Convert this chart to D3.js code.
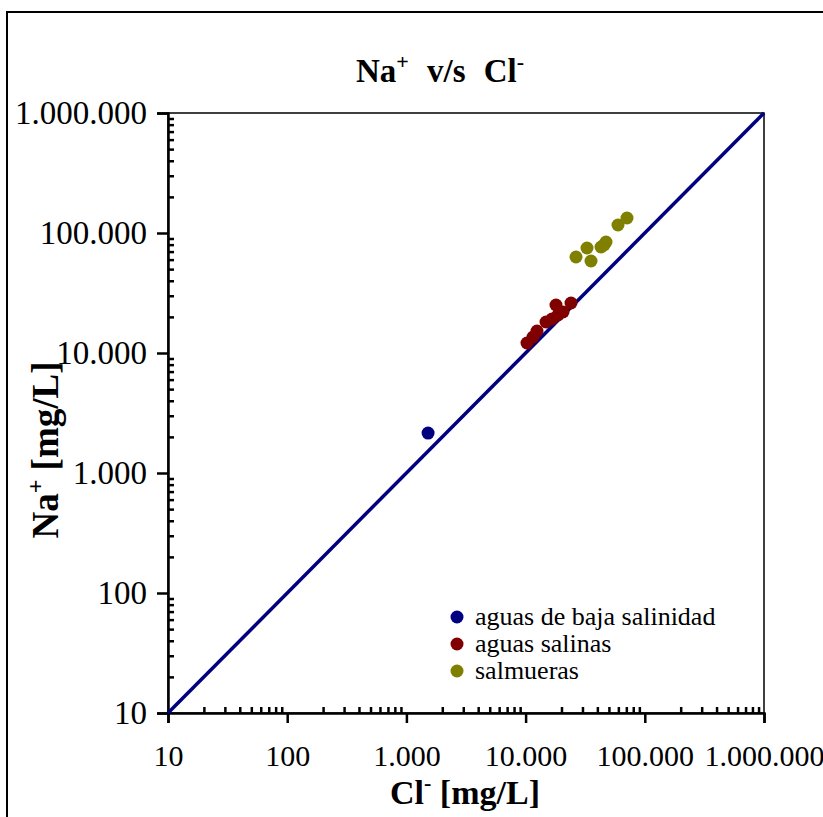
<!DOCTYPE html>
<html>
<head>
<meta charset="utf-8">
<script src="https://cdn.jsdelivr.net/npm/d3@7"></script>
<style>
  body { margin: 0; background: #fff; }
  svg { display: block; }
  svg text { font-family: "Liberation Serif", "Times New Roman", serif; }
</style>
</head>
<body>
<div id="chart"></div>
<script>
// series values (Cl-, Na+ in mg/L)
const bajaCl = [1520];
const bajaNa = [2150];
const salinasCl = [10270, 11540, 12460, 14830, 16650, 17990, 18700, 20600, 24040];
const salinasNa = [12110, 13590, 15250, 18130, 19200, 25120, 20730, 21970, 26100];
const salmuerasCl = [26480, 32740, 35380, 42930, 45500, 47270, 59580, 70900];
const salmuerasNa = [63100, 74990, 58430, 76430, 79430, 84140, 116600, 133350];

const seriesNames = ['aguas de baja salinidad', 'aguas salinas', 'salmueras'];
const seriesColors = ['#000080', '#800000', '#808000'];
const majorTicks = [10, 100, 1000, 10000, 100000, 1000000];

const width = 823;
const height = 817;
const margin = { left: 168, right: 59, top: 113, bottom: 104 };
const serif = 'Liberation Serif';

const fmt = d3.formatLocale({ decimal: ',', thousands: '.', grouping: [3], currency: ['', '€'] }).format(',d');

const x = d3.scaleLog().domain([10, 1e6]).range([margin.left, width - margin.right]);
const y = d3.scaleLog().domain([10, 1e6]).range([height - margin.bottom, margin.top]);

const series = [
  { name: seriesNames[0], color: seriesColors[0], pts: bajaCl.map((c, i) => [c, bajaNa[i]]) },
  { name: seriesNames[1], color: seriesColors[1], pts: salinasCl.map((c, i) => [c, salinasNa[i]]) },
  { name: seriesNames[2], color: seriesColors[2], pts: salmuerasCl.map((c, i) => [c, salmuerasNa[i]]) },
];

// minor ticks 2..9 per decade
const minorTicks = [];
majorTicks.slice(0, -1).forEach((m) => {
  for (let k = 2; k < 10; k++) minorTicks.push(m * k);
});

const svg = d3.create('svg').attr('width', width).attr('height', height)
  .attr('font-family', serif);

// outer frame (cut by the page edges)
svg.append('rect')
  .attr('x', 7).attr('y', 12)
  .attr('width', 900).attr('height', 900)
  .attr('fill', 'none').attr('stroke', '#000').attr('stroke-width', 2);

// plot frame
svg.append('rect')
  .attr('x', x(10)).attr('y', y(1e6))
  .attr('width', x(1e6) - x(10)).attr('height', y(10) - y(1e6))
  .attr('fill', 'none').attr('stroke', '#000').attr('stroke-width', 1.5);

// x axis
const xAxis = svg.append('g').attr('transform', `translate(0,${y(10)})`);
xAxis.call(d3.axisBottom(x).tickValues(majorTicks).tickSize(10).tickPadding(22).tickFormat(fmt));
xAxis.append('g').call(d3.axisBottom(x).tickValues(minorTicks).tickSize(-6).tickFormat(''))
  .call((g) => g.select('.domain').remove());
xAxis.attr('font-family', serif);
xAxis.selectAll('line, path').attr('stroke', '#000').attr('stroke-width', 2.5);
xAxis.selectAll('text').attr('font-size', 30).attr('font-family', serif).attr('fill', '#000');

// y axis
const yAxis = svg.append('g').attr('transform', `translate(${x(10)},0)`);
yAxis.call(d3.axisLeft(y).tickValues(majorTicks).tickSize(11).tickPadding(10).tickFormat(fmt));
yAxis.append('g').call(d3.axisLeft(y).tickValues(minorTicks).tickSize(-6).tickFormat(''))
  .call((g) => g.select('.domain').remove());
yAxis.attr('font-family', serif);
yAxis.selectAll('line, path').attr('stroke', '#000').attr('stroke-width', 2.5);
yAxis.selectAll('text').attr('font-size', 33).attr('font-family', serif).attr('fill', '#000');

// 1:1 line
svg.append('path')
  .datum([10, 1e6])
  .attr('fill', 'none').attr('stroke', '#000080').attr('stroke-width', 3.5)
  .attr('d', d3.line().x((d) => x(d)).y((d) => y(d)));

// points
series.forEach((s) => {
  svg.append('g').selectAll('circle').data(s.pts).join('circle')
    .attr('cx', (d) => x(d[0])).attr('cy', (d) => y(d[1]))
    .attr('r', 6.5).attr('fill', s.color);
});

// legend
const legend = svg.append('g').attr('transform', 'translate(457,617)');
series.forEach((s, i) => {
  const row = legend.append('g').attr('transform', `translate(0,${i * 27})`);
  row.append('circle').attr('r', 6.5).attr('fill', s.color);
  row.append('text').attr('x', 18).attr('y', 8).attr('font-size', 26)
    .attr('font-family', serif).text(s.name);
});

// title
const title = svg.append('text').attr('x', 440).attr('y', 82)
  .attr('text-anchor', 'middle').attr('font-weight', 'bold').attr('font-size', 33)
  .attr('font-family', serif).attr('word-spacing', 10);
title.append('tspan').text('Na');
title.append('tspan').attr('dy', -13).attr('font-size', 22).text('+');
title.append('tspan').attr('dy', 13).text(' v/s Cl');
title.append('tspan').attr('dy', -13).attr('font-size', 22).text('-');

// x label
const xl = svg.append('text').attr('x', 465).attr('y', 804)
  .attr('text-anchor', 'middle').attr('font-weight', 'bold').attr('font-size', 34)
  .attr('font-family', serif);
xl.append('tspan').text('Cl');
xl.append('tspan').attr('dy', -14).attr('font-size', 22).text('-');
xl.append('tspan').attr('dy', 14).text(' [mg/L]');

// y label
const yl = svg.append('text').attr('transform', 'translate(58,450) rotate(-90)')
  .attr('text-anchor', 'middle').attr('font-weight', 'bold').attr('font-size', 37)
  .attr('font-family', serif);
yl.append('tspan').text('Na');
yl.append('tspan').attr('dy', -15).attr('font-size', 24).text('+');
yl.append('tspan').attr('dy', 15).text(' [mg/L]');

document.querySelector('#chart').appendChild(svg.node());
</script>
</body>
</html>
